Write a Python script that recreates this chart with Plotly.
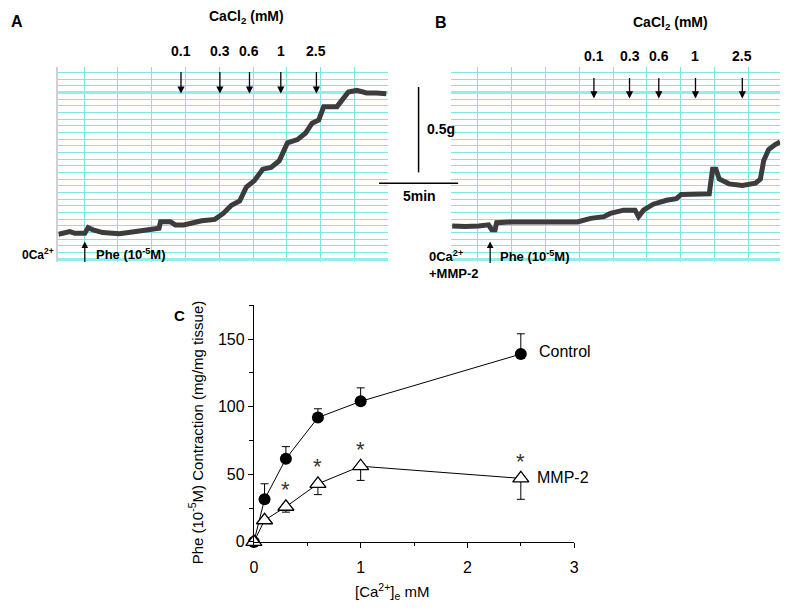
import plotly.graph_objects as go

# ---------------- DATA ----------------
# Panel A (control tissue) force trace: time (min) vs tension (g)
a_time = [0, 0.73, 1.04, 1.67, 1.88, 2.19, 2.81, 3.86, 4.89, 6.36, 6.46, 7.08, 7.39, 7.92,
          9.06, 9.89, 10.42, 10.94, 11.46, 11.88, 12.39, 12.92, 13.44, 13.96, 14.48, 15.11,
          15.63, 16.04, 16.46, 16.77, 17.61, 17.92, 18.33, 18.86, 19.48, 20.11, 20.73]
a_tension = [0.157, 0.173, 0.163, 0.163, 0.196, 0.183, 0.167, 0.160, 0.173, 0.192, 0.231, 0.231,
             0.212, 0.212, 0.236, 0.244, 0.279, 0.327, 0.352, 0.433, 0.471, 0.538, 0.548, 0.587,
             0.692, 0.711, 0.750, 0.807, 0.826, 0.904, 0.904, 0.942, 0.990, 0.999, 0.984, 0.984,
             0.980]

# Panel B (MMP-2 treated tissue) force trace
b_time = [0.08, 0.92, 1.75, 2.38, 2.58, 2.79, 2.89, 3.83, 5.92, 8.00, 8.83, 9.67, 10.08, 10.92,
          11.64, 11.86, 12.17, 12.79, 13.63, 14.25, 14.56, 15.50, 16.33, 16.44, 16.54, 16.75,
          16.96, 17.58, 18.42, 19.25, 19.56, 19.77, 20.08, 20.50, 20.81]
b_tension = [0.206, 0.202, 0.206, 0.212, 0.183, 0.183, 0.225, 0.229, 0.229, 0.229, 0.250, 0.260,
             0.279, 0.298, 0.298, 0.260, 0.298, 0.333, 0.356, 0.365, 0.390, 0.394, 0.394, 0.471,
             0.538, 0.538, 0.480, 0.452, 0.442, 0.456, 0.480, 0.587, 0.653, 0.682, 0.698]

cacl2_labels = ["0.1", "0.3", "0.6", "1", "2.5"]
a_cacl2_time = [7.75, 10.21, 12.08, 14.06, 16.31]
b_cacl2_time = [9.04, 11.29, 13.14, 15.46, 18.42]
a_phe_time = 1.67
b_phe_time = 2.48

scale_bar_g = 0.5
scale_bar_min = 5

# Panel C: concentration-response
ca_mM = [0, 0.1, 0.3, 0.6, 1, 2.5]
control_mean = [0, 31.5, 61.5, 92, 104, 139]
control_err = [0, 11.5, 9, 6.5, 10, 15]
mmp_mean = [0, 16, 26, 43, 56, 47]
mmp_err = [0, 2, 4, 8, 10.5, 15.5]
significant = [False, False, True, True, True, True]

# ---------------- LAYOUT HELPERS ----------------
W, H = 800, 610
PX_PER_MIN = 16.0
PX_PER_G = 173.4


def fx(p):
    return p / W


def fy(p):
    return 1 - p / H


FONT = "Liberation Sans, Arial, sans-serif"
GRID_THIN = "#7fe6e6"
GRID_THICK = "#96ecec"
TRACE_COL = "#3c3c3c"

# trace panels geometry (pixels)
A_LEFT, A_RIGHT = 55, 388
B_LEFT, B_RIGHT = 452, 785
P_TOP, P_BOT = 68, 266
ZERO_PX = 265  # pixel row of 0 g

fig = go.Figure()

fig.add_trace(go.Scatter(x=a_time, y=a_tension, mode="lines",
                         line=dict(color=TRACE_COL, width=5), xaxis="x", yaxis="y",
                         showlegend=False, hoverinfo="skip"))
fig.add_trace(go.Scatter(x=b_time, y=b_tension, mode="lines",
                         line=dict(color=TRACE_COL, width=5), xaxis="x2", yaxis="y2",
                         showlegend=False, hoverinfo="skip"))

# Panel C
fig.add_trace(go.Scatter(
    x=ca_mM, y=control_mean, mode="lines+markers", xaxis="x3", yaxis="y3",
    line=dict(color="black", width=1),
    marker=dict(symbol="circle", size=12, color="black"),
    error_y=dict(type="data", symmetric=False, array=control_err,
                 arrayminus=[0] * len(control_err), color="black", thickness=1, width=4),
    cliponaxis=False, showlegend=False))
fig.add_trace(go.Scatter(
    x=ca_mM, y=mmp_mean, mode="lines+markers", xaxis="x3", yaxis="y3",
    line=dict(color="black", width=1),
    marker=dict(symbol="triangle-up", size=14, color="white",
                line=dict(color="black", width=1.3)),
    error_y=dict(type="data", symmetric=False, array=[0] * len(mmp_err),
                 arrayminus=mmp_err, color="black", thickness=1, width=4),
    cliponaxis=False, showlegend=False))

y_lo = (ZERO_PX - P_BOT) / PX_PER_G
y_hi = (ZERO_PX - P_TOP) / PX_PER_G
grid_step_g = 6.77 / PX_PER_G
grid_base_g = (ZERO_PX - 263) / PX_PER_G
vgrid_step_min = 34.2 / PX_PER_MIN


def trace_xaxis(left, right, tick0):
    return dict(domain=[fx(left), fx(right)], range=[0, (right - left) / PX_PER_MIN],
                showticklabels=False, ticks="", zeroline=False, showline=False,
                showgrid=True, gridcolor=GRID_THIN, gridwidth=1,
                tick0=tick0, dtick=vgrid_step_min, fixedrange=True)


def trace_yaxis(anchor, showline=False):
    return dict(domain=[fy(P_BOT), fy(P_TOP)], range=[y_lo, y_hi], anchor=anchor,
                showticklabels=False, ticks="", zeroline=False,
                showline=showline, linecolor="#d0d0d0", linewidth=1.5,
                showgrid=True, gridcolor=GRID_THICK, gridwidth=3,
                tick0=grid_base_g, dtick=grid_step_g * 25,
                minor=dict(showgrid=True, gridcolor=GRID_THIN, gridwidth=1,
                           tick0=grid_base_g, dtick=grid_step_g),
                fixedrange=True)


annotations = []


def text(x, y, s, size=13, bold=False, xanchor="center", xref="paper", angle=0, color="black"):
    annotations.append(dict(
        x=x, y=y, xref=xref, yref="paper", text=(f"<b>{s}</b>" if bold else s),
        showarrow=False, xanchor=xanchor, yanchor="middle", textangle=angle,
        font=dict(family=FONT, size=size, color=color)))


# Panel labels and texts A
text(fx(13), fy(22), "A", size=16, bold=True)
text(fx(245), fy(17), "CaCl<sub>2</sub> (mM)", size=14, bold=True)
for t, lab in zip(a_cacl2_time, cacl2_labels):
    text(t, fy(52), lab, size=14, bold=True, xref="x")
    annotations.append(dict(x=t, y=fy(95), xref="x", yref="paper", text="", showarrow=True,
                            ax=0, ay=-23, arrowhead=2, arrowsize=1.1, arrowwidth=1.3,
                            arrowcolor="black"))
text(fx(53), fy(258), "0Ca<sup>2+</sup>", size=12, bold=True, xanchor="right")
annotations.append(dict(x=a_phe_time, y=fy(245), xref="x", yref="paper", text="", showarrow=True,
                        ax=0, ay=22, arrowhead=2, arrowsize=1.1, arrowwidth=1.2,
                        arrowcolor="black"))
text(fx(91), fy(258), "Phe (10<sup>-5</sup>M)", size=13, bold=True, xanchor="left")

# B
text(fx(442), fy(23), "B", size=16, bold=True)
text(fx(674), fy(23), "CaCl<sub>2</sub> (mM)", size=14, bold=True)
for t, lab in zip(b_cacl2_time, cacl2_labels):
    text(t, fy(57), lab, size=14, bold=True, xref="x2")
    annotations.append(dict(x=t, y=fy(100), xref="x2", yref="paper", text="", showarrow=True,
                            ax=0, ay=-22, arrowhead=2, arrowsize=1.1, arrowwidth=1.3,
                            arrowcolor="black"))
text(fx(428), fy(260), "0Ca<sup>2+</sup>", size=13, bold=True, xanchor="left")
text(fx(428), fy(278), "+MMP-2", size=13, bold=True, xanchor="left")
annotations.append(dict(x=b_phe_time, y=fy(245), xref="x2", yref="paper", text="", showarrow=True,
                        ax=0, ay=23, arrowhead=2, arrowsize=1.1, arrowwidth=1.2,
                        arrowcolor="black"))
text(fx(500), fy(260), "Phe (10<sup>-5</sup>M)", size=13, bold=True, xanchor="left")

# scale bars
VBAR_X, VBAR_TOP = 419.3, 88.3
HBAR_Y, HBAR_LEFT = 186, 379.3
shapes = [
    dict(type="line", xref="paper", yref="paper", x0=fx(VBAR_X), x1=fx(VBAR_X),
         y0=fy(VBAR_TOP), y1=fy(VBAR_TOP + scale_bar_g * PX_PER_G),
         line=dict(color="black", width=1.5)),
    dict(type="line", xref="paper", yref="paper", x0=fx(HBAR_LEFT),
         x1=fx(HBAR_LEFT + scale_bar_min * PX_PER_MIN), y0=fy(HBAR_Y), y1=fy(HBAR_Y),
         line=dict(color="black", width=1.5)),
]
text(fx(442), fy(131), f"{scale_bar_g}g", size=14, bold=True)
text(fx(420), fy(199), f"{scale_bar_min}min", size=14, bold=True)

# C
text(fx(178), fy(320), "C", size=15, bold=True)
text(fx(539), fy(357), "Control", size=16, xanchor="left")
text(fx(537), fy(485), "MMP-2", size=16, xanchor="left")
text(fx(194), fy(439), "Phe (10<sup>-5</sup>M) Contraction (mg/mg tissue)", size=15, angle=-90)
text(fx(393), fy(600), "[Ca<sup>2+</sup>]<sub>e</sub> mM", size=15)
for xv, yv, sig in zip(ca_mM, mmp_mean, significant):
    if sig:
        annotations.append(dict(x=xv, y=yv, xref="x3", yref="y3", text="*", showarrow=False,
                                yshift=17, font=dict(family=FONT, size=22, color="#333")))

C_LEFT, C_RIGHT = 252.7, 576.7
C_BOT, C_TOP = 550, 310

fig.update_layout(
    width=W, height=H, margin=dict(l=0, r=0, t=0, b=0),
    paper_bgcolor="white", plot_bgcolor="white",
    font=dict(family=FONT, size=15, color="black"),
    xaxis=trace_xaxis(A_LEFT, A_RIGHT, (81 - A_LEFT) / PX_PER_MIN) | dict(anchor="y"),
    yaxis=trace_yaxis("x", showline=True),
    xaxis2=trace_xaxis(B_LEFT, B_RIGHT, (479.3 - B_LEFT) / PX_PER_MIN) | dict(anchor="y2"),
    yaxis2=trace_yaxis("x2"),
    xaxis3=dict(domain=[fx(C_LEFT), fx(C_RIGHT)], range=[0, 3], anchor="y3",
                showline=True, linecolor="black", linewidth=1, showgrid=False, zeroline=False,
                ticks="outside", ticklen=5, tickcolor="black", dtick=1, tick0=0,
                ticklabelstandoff=6,
                minor=dict(ticks="outside", ticklen=3, dtick=0.5, tickcolor="black"),
                tickfont=dict(size=16), fixedrange=True),
    yaxis3=dict(domain=[fy(C_BOT), fy(C_TOP)], range=[0, 175], anchor="x3",
                showline=True, linecolor="black", linewidth=1, showgrid=False, zeroline=False,
                ticks="outside", ticklen=5, tickcolor="black", dtick=50, tick0=0,
                minor=dict(ticks="outside", ticklen=4, dtick=25, tickcolor="black"),
                tickfont=dict(size=16), fixedrange=True),
    annotations=annotations,
    shapes=shapes,
)

fig.write_html("out.html", config={"displayModeBar": False},
               post_script="document.body.style.margin='0px';")
